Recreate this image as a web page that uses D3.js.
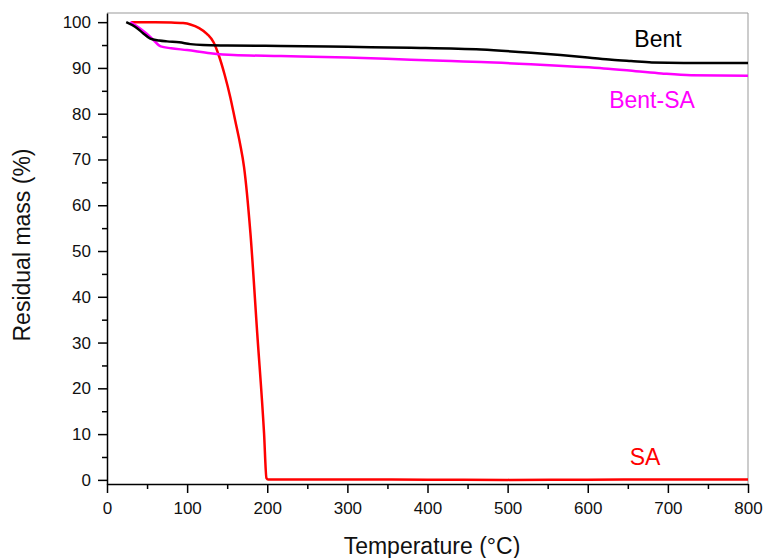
<!DOCTYPE html>
<html>
<head>
<meta charset="utf-8">
<script src="https://cdn.jsdelivr.net/npm/d3@7"></script>
<style>
    body { margin: 0; background: #fff; }
    text { font-family: "Liberation Sans", Arial, sans-serif; fill: #111; }
</style>
</head>
<body>
<div id="chart-container"></div>
<script>
// TGA curves - residual mass vs temperature
const bentTemp = [24, 35, 45, 54, 65, 75, 90, 104, 120, 150, 217, 300, 379, 467, 529, 566, 600, 630, 654, 680, 720, 800];
const bentMass = [100, 99.0, 97.6, 96.4, 96.0, 95.8, 95.6, 95.2, 95.0, 94.9, 94.8, 94.6, 94.4, 94.0, 93.3, 92.8, 92.3, 91.8, 91.5, 91.2, 91.1, 91.1];

const bentSaTemp = [29, 40, 50, 58, 67, 80, 100, 129, 158, 217, 300, 379, 430, 467, 529, 580, 620, 660, 692, 729, 800];
const bentSaMass = [100, 98.8, 97.4, 96.1, 94.7, 94.3, 93.9, 93.2, 92.8, 92.6, 92.3, 91.8, 91.5, 91.3, 90.8, 90.3, 89.9, 89.3, 88.8, 88.4, 88.3];

const saTemp = [30, 60, 80, 95, 104, 115, 125, 133, 140, 147, 154, 160, 166, 171, 179, 187.5, 196, 199, 201, 300, 400, 500, 600, 700, 800];
const saMass = [100, 100, 99.95, 99.8, 99.5, 98.7, 97.4, 95.6, 92.5, 88.4, 83.5, 78.5, 73.5, 68.4, 53.9, 32, 10.2, 0.4, 0.1, 0.1, 0.05, 0, 0.05, 0.1, 0.1];

const seriesNames = ['Bent', 'Bent-SA', 'SA'];
const seriesColors = ['#000000', '#ff00ff', '#ff0000'];

const xTicks = [0, 100, 200, 300, 400, 500, 600, 700, 800];
const yTicks = [0, 10, 20, 30, 40, 50, 60, 70, 80, 90, 100];

const width = 775;
const height = 558;
const margin = { top: 13, right: 27, bottom: 74, left: 107 };

const svg = d3.select('#chart-container')
    .append('svg')
    .attr('width', width)
    .attr('height', height);

const x = d3.scaleLinear()
    .domain([0, 800])
    .range([margin.left, width - margin.right]);

const y = d3.scaleLinear()
    .domain([-0.9, 102])
    .range([height - margin.bottom, margin.top]);

// Frame (top and right in grey)
svg.append('line')
    .attr('x1', x(0)).attr('x2', x(800))
    .attr('y1', y(102)).attr('y2', y(102))
    .attr('stroke', '#999').attr('stroke-width', 1);
svg.append('line')
    .attr('x1', x(800)).attr('x2', x(800))
    .attr('y1', y(102)).attr('y2', y(-0.9))
    .attr('stroke', '#999').attr('stroke-width', 1);

// Minor ticks
const xMinor = d3.range(50, 800, 100);
const yMinor = d3.range(5, 100, 10);

svg.append('g')
    .attr('transform', `translate(0,${y(-0.9)})`)
    .call(d3.axisBottom(x).tickValues(xMinor).tickSize(5).tickFormat(''))
    .call(g => g.select('.domain').remove())
    .selectAll('line').attr('stroke-width', 1.5);

svg.append('g')
    .attr('transform', `translate(${x(0)},0)`)
    .call(d3.axisLeft(y).tickValues(yMinor).tickSize(5).tickFormat(''))
    .call(g => g.select('.domain').remove())
    .selectAll('line').attr('stroke-width', 1.5);

// Major axes
const xAxis = svg.append('g')
    .attr('transform', `translate(0,${y(-0.9)})`)
    .call(d3.axisBottom(x).tickValues(xTicks).tickSize(9).tickSizeOuter(0).tickPadding(9));

const yAxis = svg.append('g')
    .attr('transform', `translate(${x(0)},0)`)
    .call(d3.axisLeft(y).tickValues(yTicks).tickSize(9).tickSizeOuter(0).tickPadding(7));

[xAxis, yAxis].forEach(ax => {
    ax.select('.domain').attr('stroke-width', 1.5);
    ax.selectAll('.tick line').attr('stroke-width', 1.5);
    ax.selectAll('.tick text')
        .attr('font-size', '17px')
        .attr('font-family', '"Liberation Sans", Arial, sans-serif')
        .attr('fill', '#111');
});

// Curves
const line = d3.line()
    .x(d => x(d[0]))
    .y(d => y(d[1]))
    .curve(d3.curveMonotoneX);

const series = [
    d3.zip(bentTemp, bentMass),
    d3.zip(bentSaTemp, bentSaMass),
    d3.zip(saTemp, saMass)
];

// draw SA first, then Bent-SA, then Bent on top
[2, 1, 0].forEach(i => {
    svg.append('path')
        .datum(series[i])
        .attr('d', line)
        .attr('fill', 'none')
        .attr('stroke', seriesColors[i])
        .attr('stroke-width', 2.5)
        .attr('stroke-linejoin', 'round');
});

// Series labels
const labelPos = [[658, 96.4], [652, 83.0], [645, 5.0]];
seriesNames.forEach((name, i) => {
    svg.append('text')
        .attr('x', labelPos[i][0])
        .attr('y', y(labelPos[i][1]))
        .attr('dy', '0.35em')
        .attr('text-anchor', 'middle')
        .attr('font-size', '23px')
        .style('fill', seriesColors[i])
        .text(name);
});

// Axis titles
svg.append('text')
    .attr('x', 432)
    .attr('y', 554)
    .attr('text-anchor', 'middle')
    .attr('font-size', '23px')
    .text('Temperature (°C)');

svg.append('text')
    .attr('transform', `translate(30,${245}) rotate(-90)`)
    .attr('text-anchor', 'middle')
    .attr('font-size', '23px')
    .text('Residual mass (%)');
</script>
</body>
</html>
